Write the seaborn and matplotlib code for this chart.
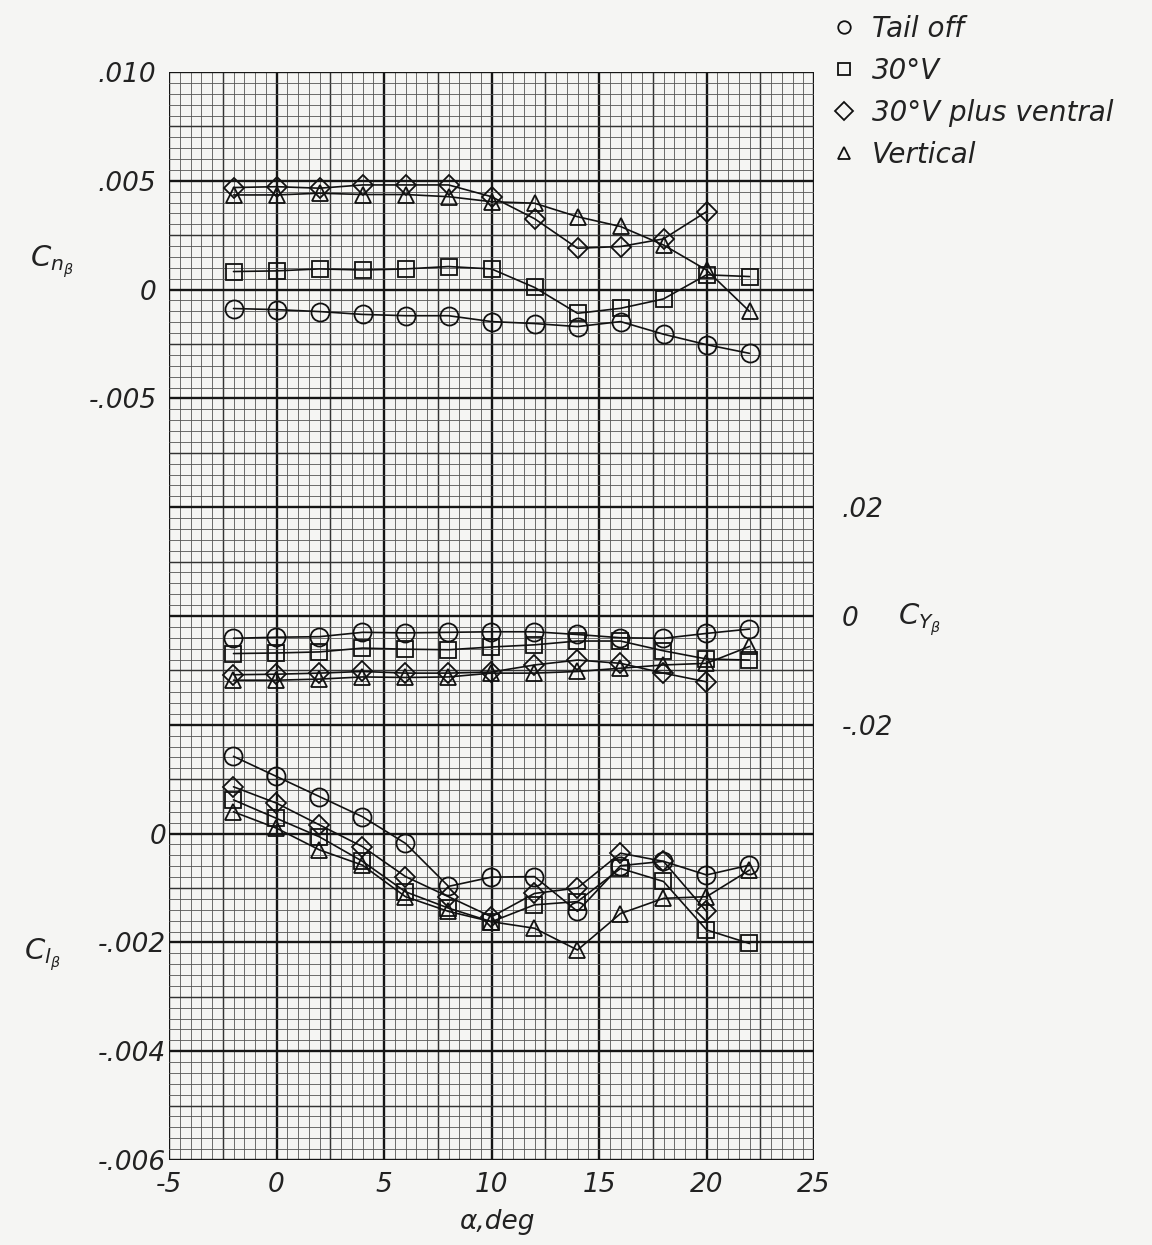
import numpy as np
import pandas as pd
import matplotlib
matplotlib.use("Agg")
import matplotlib.pyplot as plt
from matplotlib.lines import Line2D
import seaborn as sns

# ---------------- data ----------------
alpha = [-2, 0, 2, 4, 6, 8, 10, 12, 14, 16, 18, 20, 22]
configs = ["Tail off", "30°V", "30°V plus ventral", "Vertical"]

# Cn_beta
cn_tail_off = [-0.00087, -0.00092, -0.00101, -0.00114, -0.00120, -0.00120, -0.00147,
               -0.00156, -0.00170, -0.00147, -0.00205, -0.00253, -0.00293]
cn_30v = [0.00083, 0.00086, 0.00095, 0.00090, 0.00095, 0.00106, 0.00095,
          0.00010, -0.00109, -0.00086, -0.00043, 0.00068, 0.00060]
cn_30v_ventral = [0.00469, 0.00473, 0.00466, 0.00481, 0.00481, 0.00481, 0.00427,
                  0.00326, 0.00190, 0.00198, 0.00233, 0.00358, np.nan]
cn_vertical = [0.00435, 0.00435, 0.00443, 0.00437, 0.00437, 0.00427, 0.00404,
               0.00397, 0.00335, 0.00290, 0.00205, 0.00090, -0.00100]

# CY_beta
cy_tail_off = [-0.0041, -0.0039, -0.0038, -0.0030, -0.0031, -0.0030, -0.0029,
               -0.0029, -0.0034, -0.0040, -0.0041, -0.0032, -0.0024]
cy_30v = [-0.0069, -0.0068, -0.0066, -0.0059, -0.0061, -0.0062, -0.0057,
          -0.0053, -0.0046, -0.0046, -0.0064, -0.0079, -0.0081]
cy_30v_ventral = [-0.0108, -0.0107, -0.0105, -0.0102, -0.0105, -0.0105, -0.0103,
                  -0.0090, -0.0081, -0.0087, -0.0105, -0.0121, np.nan]
cy_vertical = [-0.0118, -0.0118, -0.0116, -0.0112, -0.0113, -0.0112, -0.0105,
               -0.0105, -0.0102, -0.0096, -0.0090, -0.0087, -0.0056]

# Cl_beta
cl_tail_off = [0.00142, 0.00105, 0.00068, 0.00031, -0.00018, -0.00097, -0.00080,
               -0.00079, -0.00143, -0.00059, -0.00051, -0.00076, -0.00058]
cl_30v = [0.00062, 0.00028, -0.00006, -0.00051, -0.00107, -0.00137, -0.00162,
          -0.00131, -0.00125, -0.00064, -0.00088, -0.00177, -0.00202]
cl_30v_ventral = [0.00086, 0.00056, 0.00016, -0.00024, -0.00079, -0.00116, -0.00153,
                  -0.00110, -0.00100, -0.00036, -0.00051, -0.00143, np.nan]
cl_vertical = [0.00040, 0.00010, -0.00030, -0.00058, -0.00116, -0.00143, -0.00162,
               -0.00174, -0.00214, -0.00147, -0.00119, -0.00116, -0.00067]

cn_ticks = [0.010, 0.005, 0.0, -0.005]
cn_labels = [".010", ".005", "0", "-.005"]
cy_ticks = [0.02, 0.0, -0.02]
cy_labels = [".02", "0", "-.02"]
cl_ticks = [0.0, -0.002, -0.004, -0.006]
cl_labels = ["0", "-.002", "-.004", "-.006"]
x_ticks = [-5, 0, 5, 10, 15, 20, 25]

# ---------------- build table ----------------
series = {
    "Tail off": (cn_tail_off, cy_tail_off, cl_tail_off),
    "30°V": (cn_30v, cy_30v, cl_30v),
    "30°V plus ventral": (cn_30v_ventral, cy_30v_ventral, cl_30v_ventral),
    "Vertical": (cn_vertical, cy_vertical, cl_vertical),
}
frames = []
for name, (cn, cy, cl) in series.items():
    frames.append(pd.DataFrame({"alpha": alpha, "config": name,
                                "Cn": cn, "CY": cy, "Cl": cl}))
df = pd.concat(frames, ignore_index=True)

# ---------------- style ----------------
sns.set_style("white")
plt.rcParams["font.family"] = ["DejaVu Sans"]
plt.rcParams["font.style"] = "italic"
plt.rcParams["mathtext.fontset"] = "dejavusans"
plt.rcParams["text.color"] = "#222222"
plt.rcParams["xtick.color"] = "#222222"
plt.rcParams["ytick.color"] = "#222222"

paper = "#f5f5f3"
fig = plt.figure(figsize=(11.52, 12.45), dpi=100, facecolor=paper)
ax_cn = fig.add_axes([169 / 1152, 1 - 1160 / 1245, 645 / 1152, 1088 / 1245])
ax_cn.set_facecolor(paper)
ax_cy = ax_cn.twinx()
ax_cl = ax_cn.twinx()

ax_cn.set_xlim(-5, 25)
ax_cn.set_ylim(-0.040, 0.010)
ax_cy.set_ylim(-0.10, 0.10)
ax_cl.set_ylim(-0.006, 0.014)

# graph-paper grid
def grid_style(k):
    if k % 10 == 0:
        return 1.7, "#151515"
    if k % 5 == 0:
        return 1.05, "#333333"
    return 0.6, "#555555"

for i in range(61):
    lw, c = grid_style(i)
    ax_cn.axvline(-5 + i * 0.5, color=c, lw=lw, zorder=0.5)
for j in range(101):
    lw, c = grid_style(j)
    ax_cn.axhline(-0.040 + j * 0.0005, color=c, lw=lw, zorder=0.5)

markers = {"Tail off": "o", "30°V": "s", "30°V plus ventral": "D", "Vertical": "^"}
msizes = {"Tail off": 13, "30°V": 11.5, "30°V plus ventral": 10.5, "Vertical": 12}

for ax_, col in [(ax_cn, "Cn"), (ax_cy, "CY"), (ax_cl, "Cl")]:
    for name in configs:
        sub = df[(df["config"] == name)].dropna(subset=[col])
        sns.lineplot(data=sub, x="alpha", y=col, ax=ax_, color="#111111",
                     marker=markers[name], markersize=msizes[name],
                     markerfacecolor="none", markeredgecolor="#111111",
                     markeredgewidth=1.3, linewidth=1.2, estimator=None,
                     sort=True, legend=False, zorder=3)

for ax_ in (ax_cn, ax_cy, ax_cl):
    ax_.set_xlabel("")
    ax_.set_ylabel("")
    for s in ax_.spines.values():
        s.set_visible(False)

fs = 19
ax_cn.set_xticks(x_ticks)
ax_cn.set_xticklabels([str(v) for v in x_ticks], fontsize=fs, fontstyle="italic")
ax_cn.set_yticks(cn_ticks)
ax_cn.set_yticklabels(cn_labels, fontsize=fs, fontstyle="italic")
ax_cn.tick_params(axis="both", length=0, pad=9)

ax_cl.yaxis.set_ticks_position("left")
ax_cl.set_yticks(cl_ticks)
ax_cl.set_yticklabels(cl_labels, fontsize=fs, fontstyle="italic")
ax_cl.tick_params(axis="y", length=0, pad=2, labelleft=True, labelright=False)

ax_cy.set_yticks(cy_ticks)
ax_cy.set_yticklabels(cy_labels, fontsize=fs, fontstyle="italic")
ax_cy.tick_params(axis="y", length=0, pad=20)

# axis titles
fig.text(52 / 1152, 1 - 262 / 1245, r"$C_{n_{\beta}}$", fontsize=21, ha="center", va="center")
fig.text(920 / 1152, 1 - 620 / 1245, r"$C_{Y_{\beta}}$", fontsize=21, ha="center", va="center")
fig.text(42 / 1152, 1 - 955 / 1245, r"$C_{l_{\beta}}$", fontsize=21, ha="center", va="center")
fig.text(497 / 1152, 1 - 1222 / 1245, "α,deg", fontsize=fs, ha="center", va="center",
         fontstyle="italic")

# legend
handles = [Line2D([], [], linestyle="none", marker=markers[n], markersize=9,
                  markerfacecolor="none", markeredgecolor="#111111", markeredgewidth=1.3)
           for n in configs]
fig.legend(handles, configs, loc="upper left", bbox_to_anchor=(808 / 1152, 1 + 10 / 1245),
           frameon=False, handlelength=0.8, handletextpad=0.6,
           labelspacing=0.5, prop={"style": "italic", "size": 20})

fig.savefig("out.png", dpi=100, facecolor=paper)
